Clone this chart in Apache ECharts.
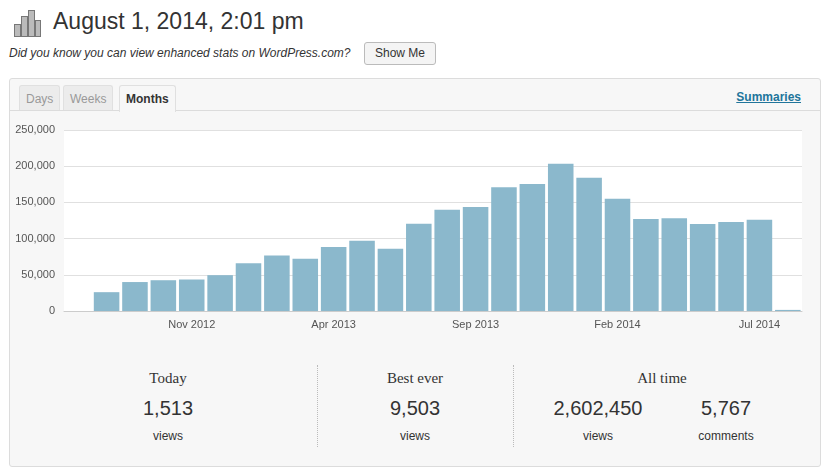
<!DOCTYPE html>
<html><head><meta charset="utf-8">
<script src="https://cdn.jsdelivr.net/npm/echarts@6/dist/echarts.min.js"></script>
<style>
body{margin:0;width:826px;height:474px;background:#fff;font-family:Arial,"Liberation Sans",sans-serif;position:relative;overflow:hidden}
.a{position:absolute}
#panel{left:9px;top:78px;width:810px;height:387px;background:#f7f7f7;border:1px solid #dcdcdc;border-radius:3px}
.tab{position:absolute;top:6px;height:24px;line-height:26px;font-size:12px;color:#999;background:#ececec;border:1px solid #e0e0e0;border-bottom:none;padding:0 6px;border-radius:3px 3px 0 0}
.lbl{font-family:"Liberation Serif",serif;font-size:15px;color:#333;text-align:center;width:200px}
.num{font-size:20px;color:#333;text-align:center;width:200px}
.sm{font-size:12px;color:#333;text-align:center;width:200px}
.sep{border-left:1px dotted #bbb;top:365px;height:82px;width:0}
</style></head><body>
<div class="a" style="left:10px;top:6px;width:30px;height:30px">
<svg width="32" height="32"><g fill="#bbb" stroke="#777" stroke-width="1"><rect x="4.5" y="18.5" width="6" height="12"/><rect x="11.5" y="10.5" width="6" height="20"/><rect x="18.5" y="4.5" width="6" height="26"/><rect x="25.5" y="14.5" width="5" height="16"/></g></svg></div>
<div class="a" style="left:53px;top:8px;font-size:23px;color:#333">August 1, 2014, 2:01 pm</div>
<div class="a" style="left:9px;top:46px;font-size:12px;font-style:italic;color:#333">Did you know you can view enhanced stats on WordPress.com?</div>
<div class="a" style="left:364px;top:42px;width:70px;height:21px;line-height:21px;text-align:center;font-size:12px;color:#333;border:1px solid #bbb;border-radius:3px;background:#f4f4f4">Show Me</div>
<div class="a" id="panel">
 <div style="position:absolute;left:0;right:0;top:31px;border-top:1px solid #dcdcdc"></div>
 <div class="tab" style="left:9px">Days</div>
 <div class="tab" style="left:53px">Weeks</div>
 <div class="tab" style="left:109px;background:#f7f7f7;color:#333;font-weight:bold;height:26px;">Months</div>
 <div style="position:absolute;right:19px;top:11px;font-size:12px;font-weight:bold;color:#21759b;text-decoration:underline">Summaries</div>
</div>
<div class="a" id="c" style="left:10px;top:110px;width:810px;height:230px"></div>
<div class="a lbl" style="left:68px;top:370px">Today</div>
<div class="a num" style="left:68px;top:397px">1,513</div>
<div class="a sm" style="left:68px;top:429px">views</div>
<div class="a sep" style="left:317px"></div>
<div class="a lbl" style="left:315px;top:370px">Best ever</div>
<div class="a num" style="left:315px;top:397px">9,503</div>
<div class="a sm" style="left:315px;top:429px">views</div>
<div class="a sep" style="left:513px"></div>
<div class="a lbl" style="left:562px;top:370px">All time</div>
<div class="a num" style="left:498px;top:397px">2,602,450</div>
<div class="a sm" style="left:498px;top:429px">views</div>
<div class="a num" style="left:626px;top:397px">5,767</div>
<div class="a sm" style="left:626px;top:429px">comments</div>
<script>
const categories=["Jul 2012","Aug 2012","Sep 2012","Oct 2012","Nov 2012","Dec 2012","Jan 2013","Feb 2013","Mar 2013","Apr 2013","May 2013","Jun 2013","Jul 2013","Aug 2013","Sep 2013","Oct 2013","Nov 2013","Dec 2013","Jan 2014","Feb 2014","Mar 2014","Apr 2014","May 2014","Jun 2014","Jul 2014","Aug 2014"];
const views=[0,26000,40000,42500,43500,49500,66000,76500,72000,88500,97000,86000,120500,140000,143500,171000,175500,203500,184000,155000,127000,128000,120000,123000,126000,1513];
const yTicks=[0,50000,100000,150000,200000,250000];
const ch=echarts.init(document.getElementById('c'));
ch.setOption({
 animation:false,
 grid:{left:54,right:18,top:20,bottom:29,show:true,backgroundColor:'#fff',borderWidth:0},
 xAxis:{type:'category',data:categories,axisTick:{show:false},
  axisLine:{lineStyle:{color:'#ccc'}},
  axisLabel:{color:'#555',fontSize:11,fontFamily:'Arial',interval:(i)=>i%5===4,margin:8}},
 yAxis:{type:'value',min:0,max:yTicks[yTicks.length-1],interval:50000,
  axisLabel:{color:'#555',fontSize:11,fontFamily:'Arial',margin:9,formatter:v=>v.toLocaleString('en-US')},
  splitLine:{lineStyle:{color:'#e0e0e0'}}},
 series:[{type:'bar',data:views,barCategoryGap:'10%',itemStyle:{color:'#8bb8cc'}}]
});
</script>
</body></html>
